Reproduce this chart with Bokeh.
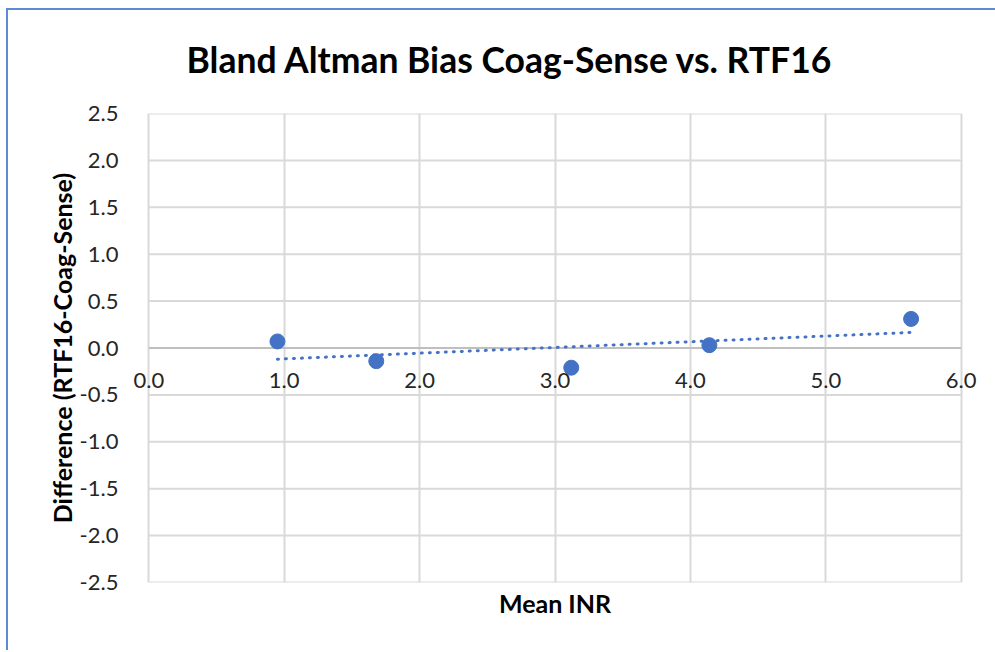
import numpy as np
from bokeh.plotting import figure
from bokeh.models import (Range1d, SingleIntervalTicker, NumeralTickFormatter, Title,
                          ColumnDataSource)
from bokeh.embed import file_html
from bokeh.resources import INLINE

# Data
mean_inr = [0.95, 1.68, 3.12, 4.14, 5.63]
difference = [0.07, -0.14, -0.21, 0.03, 0.31]
x_min, x_max = 0.0, 6.0
y_ticks = [-2.5, -2.0, -1.5, -1.0, -0.5, 0.0, 0.5, 1.0, 1.5, 2.0, 2.5]
title_text = "Bland Altman Bias Coag-Sense vs. RTF16"
x_title = "Mean INR"
y_title = "Difference (RTF16-Coag-Sense)"

BLUE = "#4472c4"
GRID = "#d9d9d9"
ZERO = "#bfbfbf"
FONT = "Lato"
TICK_COLOR = "#262626"
EDGE = "#5b8bd0"

pad = 0.15  # small room so the end tick labels under the zero line are not clipped
p = figure(width=989, height=648, output_backend="svg", toolbar_location=None,
           x_range=Range1d(x_min - pad, x_max + pad), y_range=Range1d(y_ticks[0], y_ticks[-1]),
           min_border_left=122, min_border_top=111, min_border_right=14, min_border_bottom=68)
p.background_fill_color = "white"
p.border_fill_color = None
p.outline_line_color = None
p.styles = {"margin-left": "6px", "margin-top": "2px",
            "background": (f"linear-gradient({EDGE},{EDGE}) 0 6px / 100% 2px no-repeat, "
                           f"linear-gradient({EDGE},{EDGE}) 0 6px / 2px 100% no-repeat, white")}

# title
p.title.text = title_text
p.title.align = "left"
p.title.offset = 58
p.title.text_font = FONT
p.title.text_font_size = "35.5px"
p.title.text_font_style = "bold"
p.title.text_color = "black"
p.title.standoff = 66

# axes
p.xaxis.fixed_location = 0
p.xaxis.bounds = (x_min, x_max)
p.xaxis.ticker = SingleIntervalTicker(interval=1.0)
p.yaxis.ticker = SingleIntervalTicker(interval=0.5)
p.xaxis.formatter = NumeralTickFormatter(format="0.0")
p.yaxis.formatter = NumeralTickFormatter(format="0.0")
for ax in (p.xaxis, p.yaxis):
    ax.major_tick_line_color = None
    ax.minor_tick_line_color = None
    ax.axis_line_color = None
    ax.major_label_text_font = FONT
    ax.major_label_text_font_size = "22px"
    ax.major_label_text_color = TICK_COLOR
p.xaxis.major_label_standoff = 19
p.yaxis.major_label_standoff = 4
p.yaxis.axis_label = y_title
p.yaxis.axis_label_text_font = FONT
p.yaxis.axis_label_text_font_size = "25px"
p.yaxis.axis_label_text_font_style = "bold"
p.yaxis.axis_label_text_color = "black"
p.yaxis.axis_label_standoff = 0

# vertical gridlines from the x ticker
p.xgrid.grid_line_color = GRID
p.xgrid.grid_line_width = 2
# horizontal gridlines across the 0..6 span only
p.ygrid.visible = False
grid_src = ColumnDataSource(dict(
    x0=[x_min] * len(y_ticks), x1=[x_max] * len(y_ticks), y=y_ticks,
    c=[ZERO if v == 0 else GRID for v in y_ticks]))
p.segment(x0="x0", x1="x1", y0="y", y1="y", source=grid_src, line_color="c", line_width=2)

p.add_layout(Title(text=x_title, align="center", text_font=FONT, text_font_size="25px",
                   text_font_style="bold", text_color="black", standoff=6), "below")

# trendline (least squares fit of the data)
slope, intercept = np.polyfit(mean_inr, difference, 1)
tx = [min(mean_inr), max(mean_inr)]
ty = [slope * v + intercept for v in tx]
p.line(tx, ty, line_color=BLUE, line_width=3, line_dash="1 7", line_cap="round")

src = ColumnDataSource(dict(x=mean_inr, y=difference))
p.scatter("x", "y", source=src, size=15, fill_color=BLUE, line_color=BLUE)

open("out.html", "w").write(file_html(p, INLINE))
